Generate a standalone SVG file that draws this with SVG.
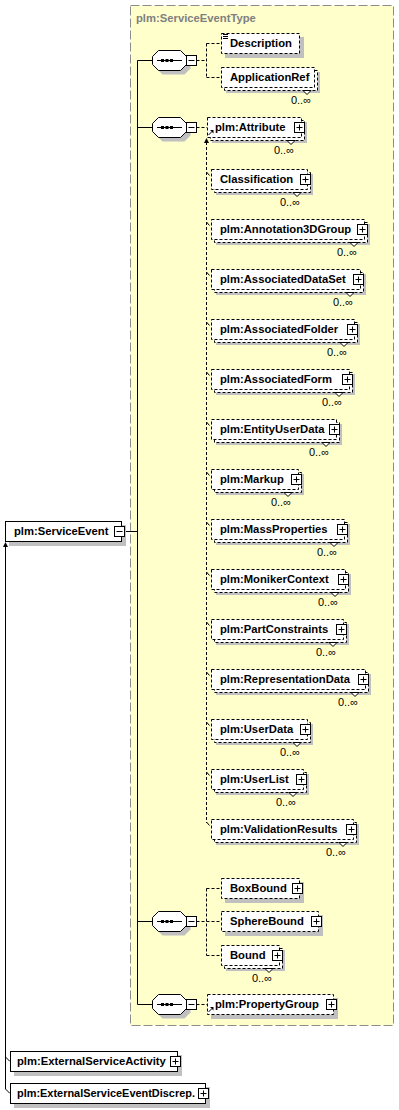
<svg xmlns="http://www.w3.org/2000/svg" xmlns:xlink="http://www.w3.org/1999/xlink" width="399" height="1110" viewBox="0 0 399 1110">
<style>
.t{font-family:"Liberation Sans",Arial,sans-serif;font-weight:bold;font-size:11.25px;fill:#000}
.ttl{font-family:"Liberation Sans",Arial,sans-serif;font-weight:bold;font-size:11.25px;fill:#808080}
.occ{font-family:"Liberation Sans",Arial,sans-serif;font-size:11px;fill:#000;text-anchor:end}
.sh{fill:#c0c0c0}
.box{fill:#fff;stroke:#000;stroke-dasharray:3 2}
.sol{fill:#fff;stroke:#000}
.ntc{fill:#fff;stroke:#000}
.dl{fill:none;stroke:#000;stroke-dasharray:3 2}
.ln{fill:none;stroke:#000}
</style>
<defs>
<g id="plus"><rect x="0.5" y="0.5" width="10" height="10" fill="#fff" stroke="#000"/><path d="M2.5 5.5H8.5M5.5 2.5V8.5" stroke="#000"/></g>
<g id="minus"><rect x="0.5" y="0.5" width="10" height="10" fill="#fff" stroke="#000"/><path d="M2.5 5.5H8.5" stroke="#000"/></g>
<g id="seqshape">
<polygon class="sh" transform="translate(4,4)" points="158.5,-9.5 180.5,-9.5 186.5,-3.5 186.5,4.5 180.5,10.5 158.5,10.5 152.5,4.5 152.5,-3.5"/>
<polygon fill="#fff" stroke="#000" points="158.5,-9.5 180.5,-9.5 186.5,-3.5 186.5,4.5 180.5,10.5 158.5,10.5 152.5,4.5 152.5,-3.5"/>
<path d="M157 0.5H182" stroke="#000"/>
<rect x="161" y="-1" width="3" height="3"/><rect x="165.5" y="-1" width="3" height="3"/><rect x="170" y="-1" width="3" height="3"/>
<use xlink:href="#minus" x="186" y="-5"/>
</g>
<g id="refarrow"><path d="M0.5 6L4 2.5" stroke="#000"/><polygon points="5.5,1 5.5,4.5 2,1" fill="#000"/></g>
</defs>
<rect width="399" height="1110" fill="#fff"/>
<g id="type-box">
<rect x="130.5" y="5.5" width="263" height="1020" fill="#ffffcc" stroke="#8c8c8c" stroke-dasharray="9 3"/>
<text class="ttl" x="136" y="22">plm:ServiceEventType</text>
</g>
<g id="connectors">
<path class="ln" d="M137.5 60.5V1004.5M137.5 60.5H152.5M137.5 127.5H152.5M137.5 921.5H152.5M137.5 1004.5H152.5M124.5 531.5H137.5"/>
<path class="dl" d="M196.5 60.5H206.5M206.5 43.5V77.5M206.5 43.5H221M206.5 77.5H221"/>
<path class="dl" d="M196.5 127.5H207M206.5 142V823"/>
<polygon points="204,143 209,143 206.5,138" fill="#000"/>
<path class="ln" d="M206.5 172L209.5 175.5M206.5 222L209.5 225.5M206.5 272L209.5 275.5M206.5 322L209.5 325.5M206.5 372L209.5 375.5M206.5 422L209.5 425.5M206.5 472L209.5 475.5M206.5 522L209.5 525.5M206.5 572L209.5 575.5M206.5 622L209.5 625.5M206.5 672L209.5 675.5M206.5 722L209.5 725.5M206.5 772L209.5 775.5M206.5 822L209.5 825.5"/>
<path class="dl" d="M196.5 921.5H221M206.5 888.5V955.5M206.5 888.5H221M206.5 955.5H221"/>
<path class="dl" d="M196.5 1004.5H207"/>
<path class="ln" d="M5.5 546V1089M5.5 1057L10 1061.5M5.5 1089L10 1093.5"/>
<polygon points="3,547 8,547 5.5,542" fill="#000"/>
</g>
<g id="seq1" transform="translate(0,60)"><use xlink:href="#seqshape"/></g>
<g id="seq2" transform="translate(0,127)"><use xlink:href="#seqshape"/></g>
<g id="seq3" transform="translate(0,921)"><use xlink:href="#seqshape"/></g>
<g id="seq4" transform="translate(0,1004)"><use xlink:href="#seqshape"/></g>

<g id="n-description">
<rect class="sh" x="225" y="37" width="79" height="21"/>
<rect class="box" x="221.5" y="33.5" width="78" height="20"/>
<path d="M223 34.5H228M223 36.5H228M223 38.5H228" stroke="#000"/>
<text class="t" x="230" y="47">Description</text>
</g>
<g id="n-applicationref">
<rect class="sh" x="226" y="72" width="94" height="21"/>
<rect class="box" x="224.5" y="70.5" width="93" height="20"/>
<polygon class="ntc" points="303,90.5 307,94.5 311,90.5"/>
<rect class="box" x="221.5" y="67.5" width="93" height="20"/>
<text class="t" x="230" y="81">ApplicationRef</text>
<text class="occ" x="311" y="104">0..∞</text>
</g>
<g id="n-attribute">
<rect class="sh" x="212" y="122" width="95" height="21"/>
<rect class="box" x="210.5" y="120.5" width="94" height="20"/>
<polygon class="ntc" points="287,140.5 291,144.5 295,140.5"/>
<rect class="box" x="207.5" y="117.5" width="94" height="20"/>
<use xlink:href="#refarrow" x="208" y="129"/>
<text class="t" x="215" y="131">plm:Attribute</text>
<use xlink:href="#plus" x="294" y="122"/>
<text class="occ" x="294" y="154">0..∞</text>
</g>
<g id="n-classification">
<rect class="sh" x="216" y="174" width="97" height="21"/>
<rect class="box" x="214.5" y="172.5" width="96" height="20"/>
<polygon class="ntc" points="293,192.5 297,196.5 301,192.5"/>
<rect class="box" x="211.5" y="169.5" width="96" height="20"/>
<text class="t" x="220" y="183">Classification</text>
<use xlink:href="#plus" x="300" y="174"/>
<text class="occ" x="300" y="206">0..∞</text>
</g>
<g id="n-annotation3dgroup">
<rect class="sh" x="216" y="224" width="154" height="21"/>
<rect class="box" x="214.5" y="222.5" width="153" height="20"/>
<polygon class="ntc" points="350,242.5 354,246.5 358,242.5"/>
<rect class="box" x="211.5" y="219.5" width="153" height="20"/>
<text class="t" x="220" y="233">plm:Annotation3DGroup</text>
<use xlink:href="#plus" x="357" y="224"/>
<text class="occ" x="357" y="256">0..∞</text>
</g>
<g id="n-associateddataset">
<rect class="sh" x="216" y="274" width="150" height="21"/>
<rect class="box" x="214.5" y="272.5" width="149" height="20"/>
<polygon class="ntc" points="346,292.5 350,296.5 354,292.5"/>
<rect class="box" x="211.5" y="269.5" width="149" height="20"/>
<text class="t" x="220" y="283">plm:AssociatedDataSet</text>
<use xlink:href="#plus" x="353" y="274"/>
<text class="occ" x="353" y="306">0..∞</text>
</g>
<g id="n-associatedfolder">
<rect class="sh" x="216" y="324" width="144" height="21"/>
<rect class="box" x="214.5" y="322.5" width="143" height="20"/>
<polygon class="ntc" points="340,342.5 344,346.5 348,342.5"/>
<rect class="box" x="211.5" y="319.5" width="143" height="20"/>
<text class="t" x="220" y="333">plm:AssociatedFolder</text>
<use xlink:href="#plus" x="347" y="324"/>
<text class="occ" x="347" y="356">0..∞</text>
</g>
<g id="n-associatedform">
<rect class="sh" x="216" y="374" width="139" height="21"/>
<rect class="box" x="214.5" y="372.5" width="138" height="20"/>
<polygon class="ntc" points="335,392.5 339,396.5 343,392.5"/>
<rect class="box" x="211.5" y="369.5" width="138" height="20"/>
<text class="t" x="220" y="383">plm:AssociatedForm</text>
<use xlink:href="#plus" x="342" y="374"/>
<text class="occ" x="342" y="406">0..∞</text>
</g>
<g id="n-entityuserdata">
<rect class="sh" x="216" y="424" width="126" height="21"/>
<rect class="box" x="214.5" y="422.5" width="125" height="20"/>
<polygon class="ntc" points="322,442.5 326,446.5 330,442.5"/>
<rect class="box" x="211.5" y="419.5" width="125" height="20"/>
<text class="t" x="220" y="433">plm:EntityUserData</text>
<use xlink:href="#plus" x="329" y="424"/>
<text class="occ" x="329" y="456">0..∞</text>
</g>
<g id="n-markup">
<rect class="sh" x="216" y="474" width="88" height="21"/>
<rect class="box" x="214.5" y="472.5" width="87" height="20"/>
<polygon class="ntc" points="284,492.5 288,496.5 292,492.5"/>
<rect class="box" x="211.5" y="469.5" width="87" height="20"/>
<text class="t" x="220" y="483">plm:Markup</text>
<use xlink:href="#plus" x="291" y="474"/>
<text class="occ" x="291" y="506">0..∞</text>
</g>
<g id="n-massproperties">
<rect class="sh" x="216" y="524" width="134" height="21"/>
<rect class="box" x="214.5" y="522.5" width="133" height="20"/>
<polygon class="ntc" points="330,542.5 334,546.5 338,542.5"/>
<rect class="box" x="211.5" y="519.5" width="133" height="20"/>
<text class="t" x="220" y="533">plm:MassProperties</text>
<use xlink:href="#plus" x="337" y="524"/>
<text class="occ" x="337" y="556">0..∞</text>
</g>
<g id="n-monikercontext">
<rect class="sh" x="216" y="574" width="135" height="21"/>
<rect class="box" x="214.5" y="572.5" width="134" height="20"/>
<polygon class="ntc" points="331,592.5 335,596.5 339,592.5"/>
<rect class="box" x="211.5" y="569.5" width="134" height="20"/>
<text class="t" x="220" y="583">plm:MonikerContext</text>
<use xlink:href="#plus" x="338" y="574"/>
<text class="occ" x="338" y="606">0..∞</text>
</g>
<g id="n-partconstraints">
<rect class="sh" x="216" y="624" width="133" height="21"/>
<rect class="box" x="214.5" y="622.5" width="132" height="20"/>
<polygon class="ntc" points="329,642.5 333,646.5 337,642.5"/>
<rect class="box" x="211.5" y="619.5" width="132" height="20"/>
<text class="t" x="220" y="633">plm:PartConstraints</text>
<use xlink:href="#plus" x="336" y="624"/>
<text class="occ" x="336" y="656">0..∞</text>
</g>
<g id="n-representationdata">
<rect class="sh" x="216" y="674" width="155" height="21"/>
<rect class="box" x="214.5" y="672.5" width="154" height="20"/>
<polygon class="ntc" points="351,692.5 355,696.5 359,692.5"/>
<rect class="box" x="211.5" y="669.5" width="154" height="20"/>
<text class="t" x="220" y="683">plm:RepresentationData</text>
<use xlink:href="#plus" x="358" y="674"/>
<text class="occ" x="358" y="706">0..∞</text>
</g>
<g id="n-userdata">
<rect class="sh" x="216" y="724" width="97" height="21"/>
<rect class="box" x="214.5" y="722.5" width="96" height="20"/>
<polygon class="ntc" points="293,742.5 297,746.5 301,742.5"/>
<rect class="box" x="211.5" y="719.5" width="96" height="20"/>
<text class="t" x="220" y="733">plm:UserData</text>
<use xlink:href="#plus" x="300" y="724"/>
<text class="occ" x="300" y="756">0..∞</text>
</g>
<g id="n-userlist">
<rect class="sh" x="216" y="774" width="93" height="21"/>
<rect class="box" x="214.5" y="772.5" width="92" height="20"/>
<polygon class="ntc" points="289,792.5 293,796.5 297,792.5"/>
<rect class="box" x="211.5" y="769.5" width="92" height="20"/>
<text class="t" x="220" y="783">plm:UserList</text>
<use xlink:href="#plus" x="296" y="774"/>
<text class="occ" x="296" y="806">0..∞</text>
</g>
<g id="n-validationresults">
<rect class="sh" x="216" y="824" width="143" height="21"/>
<rect class="box" x="214.5" y="822.5" width="142" height="20"/>
<polygon class="ntc" points="339,842.5 343,846.5 347,842.5"/>
<rect class="box" x="211.5" y="819.5" width="142" height="20"/>
<text class="t" x="220" y="833">plm:ValidationResults</text>
<use xlink:href="#plus" x="346" y="824"/>
<text class="occ" x="346" y="856">0..∞</text>
</g>
<g id="n-boxbound">
<rect class="sh" x="225" y="882" width="79" height="21"/>
<rect class="box" x="221.5" y="878.5" width="78" height="20"/>
<text class="t" x="230" y="892">BoxBound</text>
<use xlink:href="#plus" x="292" y="883"/>
</g>
<g id="n-spherebound">
<rect class="sh" x="225" y="915" width="98" height="21"/>
<rect class="box" x="221.5" y="911.5" width="97" height="20"/>
<text class="t" x="230" y="925">SphereBound</text>
<use xlink:href="#plus" x="311" y="916"/>
</g>
<g id="n-bound">
<rect class="sh" x="226" y="950" width="59" height="21"/>
<rect class="box" x="224.5" y="948.5" width="58" height="20"/>
<polygon class="ntc" points="265,968.5 269,972.5 273,968.5"/>
<rect class="box" x="221.5" y="945.5" width="58" height="20"/>
<text class="t" x="230" y="959">Bound</text>
<use xlink:href="#plus" x="272" y="950"/>
<text class="occ" x="272" y="982">0..∞</text>
</g>
<g id="n-propertygroup">
<rect class="sh" x="211" y="998" width="127" height="21"/>
<rect class="box" x="207.5" y="994.5" width="126" height="20"/>
<use xlink:href="#refarrow" x="208" y="1006"/>
<text class="t" x="215" y="1008">plm:PropertyGroup</text>
<use xlink:href="#plus" x="326" y="999"/>
</g>
<g id="n-serviceevent">
<rect class="sh" x="9" y="525" width="117" height="21"/>
<rect class="sol" x="5.5" y="521.5" width="116" height="20"/>
<text class="t" x="14" y="535">plm:ServiceEvent</text>
<use xlink:href="#minus" x="114" y="526"/>
</g>
<g id="n-externalserviceactivity">
<rect class="sh" x="14" y="1055" width="168" height="21"/>
<rect class="sol" x="10.5" y="1051.5" width="167" height="20"/>
<text class="t" x="17" y="1065">plm:ExternalServiceActivity</text>
<use xlink:href="#plus" x="170" y="1056"/>
</g>
<g id="n-externalserviceeventdiscrep">
<rect class="sh" x="14" y="1087" width="196" height="21"/>
<rect class="sol" x="10.5" y="1083.5" width="195" height="20"/>
<text class="t" x="17" y="1097" textLength="178" lengthAdjust="spacingAndGlyphs">plm:ExternalServiceEventDiscrep.</text>
<use xlink:href="#plus" x="198" y="1088"/>
</g>
</svg>
